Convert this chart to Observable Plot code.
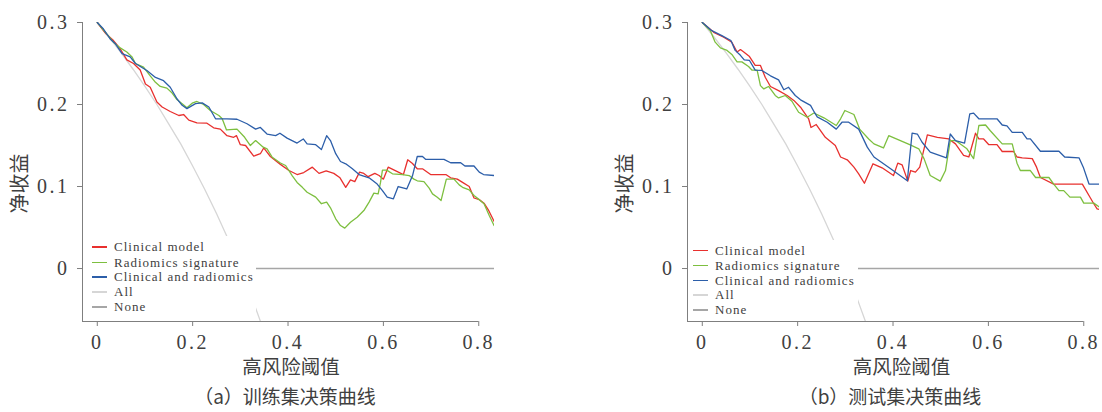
<!DOCTYPE html>
<html>
<head>
<meta charset="utf-8">
<script src="https://cdn.jsdelivr.net/npm/d3@7"></script>
<script src="https://cdn.jsdelivr.net/npm/@observablehq/plot@0.6"></script>
<style>
  body { margin: 0; background: #fff; }
  #wrap { position: relative; width: 1102px; height: 412px; overflow: hidden; background: #fff; }
  .panel { position: absolute; top: 0; }
  .legend { position: absolute; background: #fff; font-family: "Liberation Serif", serif; font-size: 13px; color: #404040; letter-spacing: 1px; }
  .legend .sw { position: absolute; height: 1.4px; width: 15px; }
  .legend .lb { position: absolute; white-space: nowrap; line-height: 16px; }
  g[aria-label="x-axis tick label"] text, g[aria-label="y-axis tick label"] text { letter-spacing: 2.5px; font-family: "Liberation Serif", serif; }
</style>
</head>
<body>
<div id="wrap"></div>
<script>
// ---------- data ----------
const seriesNames = ["Clinical model", "Radiomics signature", "Clinical and radiomics", "All", "None"];
const seriesColors = ["#e8302e", "#7dbf3f", "#2c5ea9", "#d6d6d6", "#a6a6a6"];

const xTicks = [0, 0.2, 0.4, 0.6, 0.8];
const yTicks = [0, 0.1, 0.2, 0.3];
const xDomain = [-0.031, 0.833];
const yDomain = [-0.0646, 0.3];

// Treat-all curve (same prevalence in both sets)
const allX = [0, 0.025, 0.05, 0.075, 0.1, 0.125, 0.15, 0.175, 0.2, 0.225, 0.25, 0.275, 0.3, 0.325, 0.35, 0.375];
const allY = [0.300, 0.282, 0.263, 0.243, 0.222, 0.200, 0.176, 0.152, 0.125, 0.097, 0.067, 0.035, 0.000, -0.037, -0.077, -0.120];
const noneX = [0, 0.833];
const noneY = [0, 0];

// (a) training set
const trainClinX = [0,0.017,0.034,0.048,0.062,0.076,0.090,0.101,0.111,0.125,0.136,0.153,0.171,0.181,0.192,0.209,0.230,0.244,0.258,0.272,0.286,0.292,0.300,0.311,0.328,0.342,0.349,0.363,0.384,0.402,0.419,0.433,0.451,0.465,0.480,0.496,0.509,0.521,0.531,0.540,0.550,0.559,0.568,0.582,0.591,0.600,0.610,0.626,0.642,0.651,0.661,0.671,0.682,0.699,0.731,0.741,0.755,0.766,0.780,0.790,0.801,0.811,0.820,0.832];
const trainClinY = [0.300,0.287,0.278,0.268,0.2545,0.250,0.242,0.225,0.221,0.203,0.197,0.1915,0.1866,0.1878,0.181,0.1777,0.1772,0.1716,0.170,0.162,0.160,0.162,0.151,0.150,0.137,0.140,0.147,0.1366,0.127,0.1195,0.1146,0.117,0.1236,0.116,0.119,0.116,0.1106,0.099,0.108,0.106,0.1175,0.116,0.112,0.116,0.1134,0.109,0.1236,0.119,0.1146,0.1326,0.128,0.1216,0.1216,0.1146,0.1146,0.1106,0.109,0.105,0.100,0.086,0.084,0.0797,0.0716,0.0577];

const trainRadX = [0,0.020,0.034,0.048,0.062,0.073,0.080,0.097,0.111,0.122,0.132,0.146,0.157,0.167,0.178,0.188,0.199,0.209,0.223,0.237,0.255,0.262,0.271,0.293,0.309,0.321,0.332,0.348,0.356,0.367,0.384,0.395,0.409,0.419,0.430,0.440,0.458,0.470,0.481,0.489,0.500,0.510,0.519,0.531,0.545,0.559,0.570,0.580,0.589,0.594,0.598,0.607,0.619,0.640,0.654,0.664,0.671,0.685,0.696,0.703,0.713,0.721,0.732,0.748,0.759,0.766,0.780,0.790,0.801,0.811,0.822,0.832];
const trainRadY = [0.300,0.286,0.276,0.269,0.264,0.258,0.250,0.2455,0.235,0.227,0.222,0.220,0.214,0.206,0.201,0.196,0.2016,0.2037,0.200,0.1927,0.1866,0.1826,0.169,0.170,0.160,0.150,0.156,0.148,0.146,0.1357,0.1287,0.1256,0.113,0.105,0.099,0.093,0.087,0.079,0.081,0.074,0.0606,0.0524,0.0492,0.0565,0.0626,0.0707,0.081,0.092,0.091,0.105,0.120,0.120,0.1155,0.1146,0.1134,0.109,0.107,0.106,0.098,0.091,0.087,0.083,0.109,0.109,0.102,0.099,0.096,0.089,0.084,0.079,0.0646,0.0524];

const trainCombX = [0,0.013,0.027,0.038,0.052,0.069,0.080,0.104,0.122,0.139,0.153,0.167,0.178,0.188,0.206,0.220,0.234,0.248,0.272,0.293,0.314,0.332,0.342,0.356,0.374,0.383,0.398,0.419,0.432,0.440,0.458,0.470,0.481,0.489,0.500,0.510,0.521,0.535,0.549,0.570,0.587,0.598,0.608,0.621,0.631,0.649,0.661,0.671,0.682,0.689,0.727,0.741,0.762,0.771,0.790,0.801,0.810,0.832];
const trainCombY = [0.300,0.292,0.280,0.274,0.262,0.258,0.250,0.2415,0.233,0.229,0.221,0.207,0.199,0.195,0.201,0.202,0.197,0.1826,0.1826,0.182,0.1765,0.170,0.172,0.164,0.162,0.165,0.159,0.153,0.158,0.152,0.151,0.145,0.162,0.156,0.140,0.1305,0.1277,0.1216,0.1146,0.1106,0.103,0.095,0.087,0.085,0.100,0.097,0.113,0.1366,0.1366,0.133,0.133,0.129,0.129,0.125,0.125,0.1175,0.1146,0.1134];

// (b) test set
const testClinX = [0,0.024,0.045,0.062,0.073,0.080,0.087,0.099,0.111,0.122,0.132,0.143,0.160,0.178,0.192,0.206,0.223,0.228,0.239,0.258,0.279,0.290,0.304,0.318,0.328,0.340,0.358,0.377,0.401,0.410,0.419,0.431,0.437,0.447,0.456,0.472,0.493,0.517,0.531,0.548,0.559,0.573,0.580,0.590,0.601,0.618,0.629,0.653,0.660,0.671,0.692,0.701,0.709,0.737,0.797,0.814,0.821,0.828,0.833];
const testClinY = [0.300,0.288,0.282,0.276,0.264,0.267,0.264,0.2585,0.2476,0.2476,0.2333,0.222,0.217,0.211,0.205,0.1967,0.1826,0.172,0.1756,0.160,0.150,0.136,0.1326,0.1236,0.1155,0.104,0.1277,0.1228,0.1134,0.1285,0.1265,0.1066,0.1195,0.1175,0.1236,0.163,0.160,0.158,0.152,0.138,0.136,0.165,0.158,0.158,0.151,0.151,0.1427,0.1427,0.136,0.135,0.134,0.1236,0.111,0.103,0.103,0.086,0.079,0.0728,0.072];

const testRadX = [0,0.017,0.027,0.038,0.052,0.062,0.073,0.083,0.097,0.104,0.115,0.122,0.129,0.139,0.153,0.160,0.174,0.188,0.202,0.220,0.234,0.255,0.281,0.290,0.299,0.318,0.330,0.349,0.360,0.380,0.391,0.435,0.454,0.465,0.478,0.499,0.510,0.520,0.531,0.555,0.569,0.580,0.594,0.604,0.629,0.650,0.660,0.667,0.688,0.699,0.727,0.737,0.748,0.758,0.771,0.793,0.800,0.821,0.833];
const testRadY = [0.300,0.290,0.276,0.269,0.266,0.261,0.252,0.252,0.2463,0.242,0.242,0.223,0.219,0.222,0.211,0.208,0.211,0.204,0.1906,0.1845,0.1896,0.1838,0.1744,0.1826,0.1927,0.1878,0.170,0.158,0.152,0.147,0.162,0.151,0.146,0.134,0.1134,0.1066,0.1195,0.156,0.156,0.146,0.134,0.1744,0.175,0.168,0.152,0.152,0.1285,0.1195,0.1195,0.111,0.111,0.103,0.095,0.095,0.087,0.087,0.0797,0.0797,0.075];

const testCombX = [0,0.020,0.041,0.060,0.069,0.080,0.088,0.099,0.111,0.125,0.143,0.160,0.171,0.181,0.195,0.206,0.227,0.235,0.241,0.262,0.281,0.293,0.307,0.328,0.346,0.360,0.395,0.430,0.440,0.451,0.461,0.478,0.512,0.520,0.531,0.550,0.561,0.569,0.580,0.618,0.629,0.639,0.650,0.671,0.681,0.688,0.709,0.748,0.760,0.790,0.799,0.811,0.833];
const testCombY = [0.300,0.290,0.284,0.278,0.266,0.260,0.2545,0.2537,0.242,0.2415,0.235,0.230,0.218,0.221,0.211,0.2057,0.199,0.1906,0.185,0.1784,0.170,0.1784,0.1784,0.170,0.148,0.136,0.1216,0.107,0.165,0.164,0.154,0.142,0.135,0.164,0.156,0.153,0.1886,0.1895,0.1826,0.1826,0.175,0.174,0.166,0.166,0.158,0.158,0.143,0.143,0.136,0.135,0.1236,0.103,0.103];

const yLabel = "净收益";
const xLabel = "高风险阈值";
const captions = ["（a）训练集决策曲线", "（b）测试集决策曲线"];

// ---------- drawing ----------
const axisColor = "#7f7f7f";
const textColor = "#404040";
const cjk = '"Noto Sans CJK SC", sans-serif';
const serif = '"Liberation Serif", serif';
const fmt = d => d === 0 ? "0" : String(d);

function panel({left, marginLeft, marginRight, clin, rad, comb, caption, xLabelDx, captionDx}) {
  const lines = [
    [allX, allY, seriesColors[3]],
    [noneX, noneY, seriesColors[4]],
    [clin[0], clin[1], seriesColors[0]],
    [rad[0], rad[1], seriesColors[1]],
    [comb[0], comb[1], seriesColors[2]]
  ];
  const svg = Plot.plot({
    width: 551,
    height: 412,
    marginLeft, marginRight,
    marginTop: 22,
    marginBottom: 91,
    x: {domain: xDomain},
    y: {domain: yDomain},
    style: {fontFamily: serif, color: textColor, background: "transparent", overflow: "visible"},
    marks: [
      ...lines.map(([xs, ys, c]) => Plot.line(xs, {x: xs, y: ys, stroke: c, strokeWidth: 1.3, clip: true})),
      Plot.ruleX([xDomain[0]], {y1: yDomain[0], y2: yTicks[yTicks.length - 1], stroke: axisColor}),
      Plot.ruleY([yDomain[0]], {x1: xDomain[0], x2: xTicks[xTicks.length - 1], stroke: axisColor}),
      Plot.axisX({ticks: xTicks, tickFormat: fmt, tickSize: 5, tickPadding: 8, fontSize: 20, fontFamily: serif, stroke: axisColor, fill: textColor, label: null}),
      Plot.axisY({ticks: yTicks, tickFormat: fmt, tickSize: 5, tickPadding: 8, fontSize: 20, fontFamily: serif, stroke: axisColor, fill: textColor, label: null}),
      Plot.text([yLabel], {text: d => d, frameAnchor: "left", dx: -62, dy: 11.5, rotate: -90, textAnchor: "middle", lineAnchor: "middle", fontSize: 20, fontFamily: cjk, fill: textColor}),
      Plot.text([xLabel], {text: d => d, frameAnchor: "bottom", dx: xLabelDx, dy: 46, textAnchor: "middle", lineAnchor: "middle", fontSize: 19.5, fontFamily: cjk, fill: textColor}),
      Plot.text([caption], {text: d => d, frameAnchor: "bottom", dx: captionDx, dy: 76, textAnchor: "middle", lineAnchor: "middle", fontSize: 19, fontFamily: cjk, fill: textColor})
    ]
  });
  svg.classList.add("panel");
  svg.style.left = left + "px";
  return svg;
}

function legend({left, top, width, height, swLeft, textLeft, rows}) {
  const div = document.createElement("div");
  div.className = "legend";
  Object.assign(div.style, {left: left + "px", top: top + "px", width: width + "px", height: height + "px"});
  seriesNames.forEach((name, i) => {
    const sw = document.createElement("div");
    sw.className = "sw";
    Object.assign(sw.style, {left: swLeft + "px", top: (rows[i] - 0.7) + "px", background: seriesColors[i]});
    const lb = document.createElement("div");
    lb.className = "lb";
    Object.assign(lb.style, {left: textLeft + "px", top: (rows[i] - 8) + "px"});
    lb.textContent = name;
    div.append(sw, lb);
  });
  return div;
}

const wrap = document.getElementById("wrap");
wrap.append(
  panel({left: 0, marginLeft: 82, marginRight: 57, clin: [trainClinX, trainClinY], rad: [trainRadX, trainRadY], comb: [trainCombX, trainCombY], caption: captions[0], xLabelDx: 2.5, captionDx: -3.5}),
  panel({left: 551, marginLeft: 136, marginRight: 3, clin: [testClinX, testClinY], rad: [testRadX, testRadY], comb: [testCombX, testCombY], caption: captions[1], xLabelDx: 8, captionDx: -3.5}),
  legend({left: 83, top: 236, width: 173, height: 84, swLeft: 9, textLeft: 31, rows: [11, 26.5, 41, 56, 71]}),
  legend({left: 688, top: 240, width: 170, height: 80, swLeft: 5, textLeft: 27, rows: [10.7, 25.7, 40.7, 55, 70]})
);
</script>
</body>
</html>
